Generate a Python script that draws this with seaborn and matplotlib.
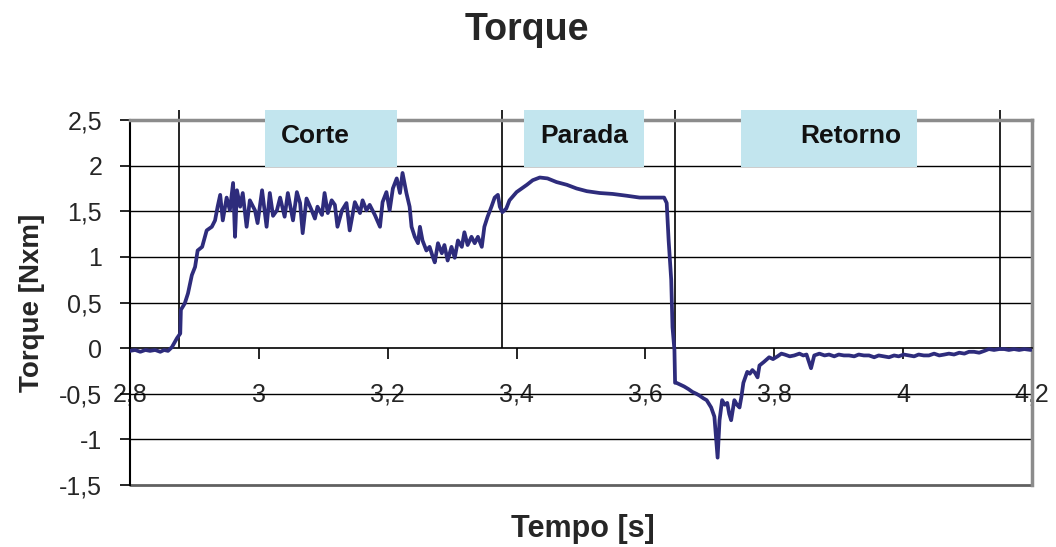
import numpy as np
import pandas as pd
import seaborn as sns
import matplotlib
matplotlib.use("Agg")
import matplotlib.pyplot as plt
from matplotlib.patches import Rectangle
from matplotlib.ticker import FuncFormatter

# ---- data ----
tempo = [2.800, 2.808, 2.816, 2.824, 2.831, 2.839, 2.847, 2.853, 2.859, 2.865,
         2.873, 2.878, 2.879, 2.885, 2.890, 2.896, 2.901, 2.905, 2.912, 2.919,
         2.927, 2.932, 2.936, 2.940, 2.944, 2.950, 2.955, 2.960, 2.963, 2.966,
         2.971, 2.975, 2.981, 2.986, 2.994, 2.998, 3.005, 3.012, 3.017, 3.022,
         3.028, 3.033, 3.040, 3.045, 3.053, 3.059, 3.064, 3.068, 3.074, 3.082,
         3.087, 3.091, 3.098, 3.102, 3.107, 3.113, 3.118, 3.122, 3.129, 3.136,
         3.141, 3.149, 3.157, 3.161, 3.167, 3.172, 3.180, 3.188, 3.192, 3.198,
         3.203, 3.208, 3.214, 3.219, 3.223, 3.229, 3.234, 3.237, 3.242, 3.247,
         3.250, 3.254, 3.260, 3.265, 3.270, 3.273, 3.278, 3.284, 3.288, 3.293,
         3.299, 3.304, 3.309, 3.315, 3.319, 3.324, 3.330, 3.335, 3.340, 3.346,
         3.350, 3.355, 3.361, 3.366, 3.371, 3.374, 3.378, 3.384, 3.389, 3.400,
         3.408, 3.416, 3.425, 3.436, 3.448, 3.462, 3.478, 3.493, 3.509, 3.529,
         3.549, 3.571, 3.591, 3.611, 3.629, 3.633, 3.636, 3.640, 3.642, 3.645,
         3.646, 3.648, 3.654, 3.660, 3.667, 3.673, 3.679, 3.684, 3.690, 3.695,
         3.702, 3.707, 3.712, 3.715, 3.719, 3.723, 3.727, 3.730, 3.733, 3.738,
         3.742, 3.746, 3.749, 3.752, 3.758, 3.762, 3.766, 3.770, 3.774, 3.777,
         3.784, 3.792, 3.798, 3.805, 3.811, 3.816, 3.824, 3.831, 3.839, 3.845,
         3.850, 3.857, 3.862, 3.870, 3.878, 3.885, 3.893, 3.900, 3.908, 3.916,
         3.924, 3.931, 3.939, 3.947, 3.955, 3.962, 3.970, 3.978, 3.986, 3.993,
         4.001, 4.009, 4.017, 4.024, 4.032, 4.040, 4.048, 4.056, 4.064, 4.071,
         4.079, 4.087, 4.095, 4.102, 4.110, 4.118, 4.126, 4.133, 4.141, 4.149,
         4.157, 4.164, 4.172, 4.180, 4.188, 4.198]

torque = [-0.03, -0.02, -0.04, -0.02, -0.03, -0.02, -0.04, -0.02, -0.03, 0.01,
          0.11, 0.16, 0.42, 0.49, 0.60, 0.80, 0.89, 1.07, 1.11, 1.29,
          1.33, 1.40, 1.55, 1.68, 1.40, 1.65, 1.51, 1.81, 1.22, 1.73,
          1.55, 1.70, 1.33, 1.62, 1.51, 1.37, 1.73, 1.33, 1.70, 1.45,
          1.51, 1.65, 1.44, 1.70, 1.40, 1.71, 1.59, 1.26, 1.64, 1.51,
          1.42, 1.55, 1.46, 1.70, 1.48, 1.62, 1.57, 1.33, 1.51, 1.59,
          1.29, 1.60, 1.48, 1.62, 1.51, 1.57, 1.46, 1.33, 1.60, 1.71,
          1.51, 1.75, 1.86, 1.70, 1.92, 1.70, 1.55, 1.33, 1.22, 1.15,
          1.33, 1.18, 1.07, 1.11, 1.00, 0.94, 1.15, 1.04, 1.13, 0.96,
          1.11, 0.99, 1.18, 1.11, 1.27, 1.13, 1.22, 1.15, 1.22, 1.11,
          1.33, 1.44, 1.55, 1.65, 1.68, 1.55, 1.49, 1.53, 1.62, 1.71,
          1.75, 1.79, 1.84, 1.87, 1.86, 1.82, 1.79, 1.75, 1.72, 1.70,
          1.69, 1.67, 1.65, 1.65, 1.65, 1.59, 1.18, 0.75, 0.23, -0.02,
          -0.38, -0.38, -0.40, -0.42, -0.45, -0.48, -0.50, -0.52, -0.55, -0.57,
          -0.65, -0.75, -1.20, -0.79, -0.57, -0.62, -0.60, -0.72, -0.79, -0.57,
          -0.62, -0.65, -0.53, -0.38, -0.26, -0.28, -0.24, -0.27, -0.32, -0.19,
          -0.15, -0.10, -0.12, -0.09, -0.06, -0.07, -0.09, -0.08, -0.06, -0.08,
          -0.07, -0.22, -0.08, -0.06, -0.08, -0.07, -0.09, -0.07, -0.08, -0.08,
          -0.09, -0.07, -0.08, -0.08, -0.10, -0.08, -0.09, -0.10, -0.08, -0.09,
          -0.07, -0.08, -0.09, -0.07, -0.08, -0.08, -0.06, -0.08, -0.07, -0.06,
          -0.07, -0.05, -0.06, -0.04, -0.04, -0.05, -0.03, -0.01, -0.02, -0.01,
          -0.01, -0.02, -0.01, -0.02, -0.01, -0.02]

fases = ["Corte", "Parada", "Retorno"]
fase_inicio = [3.009, 3.412, 3.749]
fase_fim = [3.214, 3.598, 4.022]
fase_texto_x = [3.087, 3.505, 3.918]
limites = [2.876, 3.378, 3.646, 4.150]

x_ticks = [2.8, 3.0, 3.2, 3.4, 3.6, 3.8, 4.0, 4.2]
y_ticks = [-1.5, -1.0, -0.5, 0.0, 0.5, 1.0, 1.5, 2.0, 2.5]

df = pd.DataFrame({"Tempo": tempo, "Torque": torque})

# ---- style ----
sns.set_theme(style="white")
plt.rcParams["font.family"] = ["Liberation Sans", "DejaVu Sans"]

fig = plt.figure(figsize=(10.56, 5.47), dpi=100)
ax = fig.add_axes([0.1231, 0.1133, 0.8542, 0.6673])

line_color = "#2E2C7C"
sns.lineplot(data=df, x="Tempo", y="Torque", ax=ax, color=line_color,
             linewidth=2.7, zorder=5, estimator=None, sort=False)

ax.set_xlim(2.8, 4.2)
ax.set_ylim(-1.5, 2.5)

# horizontal grid lines
for yv in y_ticks:
    if -1.5 < yv < 2.5 and yv != 0:
        ax.axhline(yv, color="black", linewidth=1.0, zorder=1)

# phase boundary lines (extend above the plot top)
ax.vlines(limites, 0, 2.61, colors="black", linewidth=1.2, zorder=2, clip_on=False)

# phase boxes
for nome, a, b, tx in zip(fases, fase_inicio, fase_fim, fase_texto_x):
    rect = Rectangle((a, 1.98), b - a, 0.63, facecolor="#C2E5EE", edgecolor="none",
                     zorder=3, clip_on=False)
    ax.add_patch(rect)
    ax.text(tx, 2.33, nome, ha="center", va="center", fontsize=19,
            fontweight="bold", color="#111111", zorder=4, clip_on=False)

# spines
ax.spines["bottom"].set_position(("data", 0))
ax.spines["bottom"].set_color("black")
ax.spines["bottom"].set_linewidth(1.2)
ax.spines["left"].set_color("black")
ax.spines["left"].set_linewidth(1.5)
ax.spines["top"].set_color("#8C8C8C")
ax.spines["top"].set_linewidth(2.5)
ax.spines["right"].set_color("#8C8C8C")
ax.spines["right"].set_linewidth(2.5)
ax.axhline(-1.5, color="#606060", linewidth=2.0, zorder=1, clip_on=False)

fmt = FuncFormatter(lambda v, p: (f"{v:g}").replace(".", ","))
ax.set_xticks(x_ticks)
ax.set_yticks(y_ticks)
ax.xaxis.set_major_formatter(fmt)
ax.yaxis.set_major_formatter(fmt)
ax.tick_params(axis="x", direction="out", length=8, width=1.2, color="black",
               pad=17, labelsize=18, bottom=True)
ax.tick_params(axis="y", direction="out", length=7, width=1.2, color="black",
               pad=13, labelsize=18, left=True)

ax.set_xlabel("")
ax.set_ylabel("Torque [Nxm]", fontsize=20, fontweight="bold")
ax.yaxis.set_label_coords(-0.094, 0.5)
fig.text(0.552, 0.032, "Tempo [s]", ha="center", va="center", fontsize=22,
         fontweight="bold")
fig.text(0.499, 0.945, "Torque", ha="center", va="center", fontsize=27,
         fontweight="bold")

fig.savefig("out.png", dpi=100)
